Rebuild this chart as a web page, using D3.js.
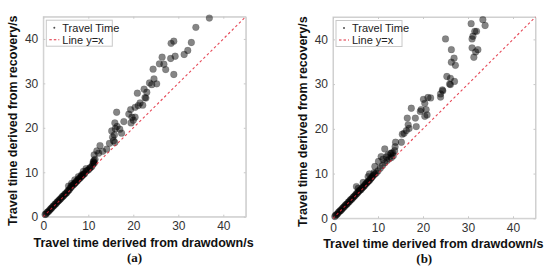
<!DOCTYPE html>
<html>
<head>
<meta charset="utf-8">
<script src="https://cdn.jsdelivr.net/npm/d3@7"></script>
<style>
  body { margin: 0; background: #fff; }
  svg { font-family: Arial, "Liberation Sans", sans-serif; }
</style>
</head>
<body>
<div id="main"></div>
<script>
// DATA
const ticks = [0, 10, 20, 30, 40]
const domainMax = 45
const panelLabels = ["(a)", "(b)"]
const xTitle = "Travel time derived from drawdown/s"
const yTitle = "Travel time derived from recovery/s"
const legendLabels = ["Travel Time", "Line y=x"]

// panel (a): [drawdown, recovery]
const pointsA = [
  [0.4,0.5],[0.6,0.6],[0.8,0.9],[1.0,1.1],[1.2,1.2],[1.4,1.5],[1.6,1.7],[1.8,1.9],[2.0,2.1],[2.2,2.4],
  [2.4,2.5],[2.6,2.8],[2.8,2.9],[3.0,3.2],[3.2,3.4],[3.4,3.6],[3.6,3.8],[3.8,4.0],[4.0,4.2],[4.2,4.5],
  [4.4,4.6],[4.6,4.8],[4.8,5.1],[5.0,5.2],[5.2,5.4],[5.4,5.7],[5.6,5.9],[5.8,6.1],[6.0,6.5],[6.2,6.6],
  [6.3,7.0],[6.6,7.1],[6.8,7.3],[7.0,7.5],[7.2,7.7],[7.4,8.0],[7.6,8.1],[7.8,8.4],[8.0,8.6],[8.2,8.7],
  [8.4,9.0],[8.6,9.2],[8.8,9.4],[9.0,9.6],[9.2,9.7],[9.5,10.2],[9.8,10.4],[10.1,10.6],[10.4,11.0],[10.8,11.3],
  [11.0,11.8],[11.2,12.2],[11.3,12.6],[11.1,12.4],[5.6,6.9],[6.3,7.5],[7.0,8.3],[7.8,9.0],[8.5,9.4],[8.9,10.2],
  [9.5,10.8],[10.4,11.0],[11.3,12.0],[11.5,12.9],[11.3,13.9],[12.3,14.3],[11.9,14.8],[13.2,14.7],[14.1,15.2],[12.6,16.0],
  [14.7,16.5],[15.9,16.7],[15.6,17.1],[15.4,17.9],[15.8,18.4],[17.4,18.8],[15.2,19.3],[16.0,19.8],[17.0,19.7],[16.4,20.3],
  [15.9,21.1],[17.9,21.4],[16.3,23.5],[19.5,21.1],[20.0,21.7],[19.7,22.4],[20.4,22.4],[19.0,23.1],[19.4,24.1],[20.4,24.6],
  [21.1,25.0],[22.1,25.1],[21.5,25.6],[22.6,26.8],[22.8,26.7],[20.9,27.8],[23.0,28.0],[22.4,28.7],[23.6,30.1],[24.1,29.7],
  [25.2,29.9],[24.6,31.0],[24.4,33.2],[27.2,33.1],[25.8,34.4],[26.8,34.3],[26.4,35.9],[28.3,35.6],[29.3,36.1],[29.0,32.0],
  [28.4,39.0],[29.0,39.5],[31.3,36.5],[32.1,37.4],[32.9,39.2],[33.9,42.6],[36.9,44.7]
]

// panel (b): [drawdown, recovery]
const pointsB = [
  [0.4,0.4],[0.6,0.7],[0.8,0.8],[1.0,1.0],[1.2,1.3],[1.4,1.5],[1.6,1.7],[1.8,1.8],[2.0,2.1],[2.2,2.3],
  [2.4,2.5],[2.6,2.7],[2.8,3.0],[3.0,3.1],[3.2,3.3],[3.4,3.6],[3.6,3.7],[3.8,4.0],[4.0,4.2],[4.2,4.3],
  [4.4,4.6],[4.6,4.8],[4.8,5.0],[5.0,5.2],[5.2,5.5],[5.4,5.6],[5.6,5.9],[5.8,6.1],[6.0,6.3],[6.2,6.4],
  [6.4,6.7],[6.6,6.9],[6.8,7.1],[7.0,7.3],[7.2,7.6],[7.4,7.8],[7.6,8.0],[7.8,8.2],[8.0,8.4],[8.2,8.6],
  [8.4,8.9],[8.6,9.1],[8.8,9.4],[9.0,9.6],[9.3,9.9],[9.6,10.1],[5.2,7.1],[5.6,6.7],[6.7,8.0],[7.8,9.3],
  [10.0,10.6],[10.5,11.2],[11.0,11.8],[11.5,12.4],[12.0,12.9],[12.5,13.3],[13.0,13.6],[13.4,14.0],[12.8,14.5],[13.3,14.6],
  [8.1,9.9],[9.1,10.2],[9.3,11.6],[10.1,12.7],[11.1,13.2],[10.7,13.8],[11.9,13.7],[12.2,14.2],[13.0,14.6],[13.7,15.1],
  [11.5,15.5],[13.8,16.0],[13.9,17.0],[15.2,17.0],[15.4,18.8],[15.8,19.0],[16.3,19.6],[16.9,20.1],[18.5,20.5],[16.7,20.9],
  [16.5,22.4],[18.3,22.4],[17.4,24.6],[19.4,23.9],[19.6,24.3],[20.7,24.3],[20.9,23.1],[20.4,22.8],[20.4,25.7],[20.1,26.6],
  [21.1,27.0],[21.7,26.9],[23.9,27.1],[23.9,27.8],[24.3,28.7],[24.4,28.5],[25.9,30.0],[26.1,29.9],[27.0,30.6],[26.1,31.3],
  [25.3,31.7],[27.2,34.2],[26.3,34.9],[26.9,35.8],[26.3,37.7],[25.0,40.1],[31.3,36.0],[31.7,37.2],[30.9,38.1],[32.2,37.7],
  [30.9,40.1],[31.1,40.7],[31.5,41.8],[31.9,41.8],[30.7,43.5],[33.3,44.4],[33.8,43.1]
]

// LAYOUT
const panels = [
  {points: pointsA, label: panelLabels[0], x0: 43.3, x1: 245.8, yb: 216.7, yt: 16.7},
  {points: pointsB, label: panelLabels[1], x0: 333, x1: 535.5, yb: 218.3, yt: 17}
]

const red = '#e0283a'
const boxGray = '#d0d0d0'

const svg = d3.select("#main").append("svg")
  .attr("width", 550)
  .attr("height", 272)

panels.forEach(draw_panel)

function draw_panel(p) {
  let x = d3.scaleLinear().domain([0, domainMax]).range([p.x0, p.x1])
  let y = d3.scaleLinear().domain([0, domainMax]).range([p.yb, p.yt])
  let g = svg.append("g")

  // box
  g.append("rect")
    .attr("x", p.x0).attr("y", p.yt)
    .attr("width", p.x1 - p.x0).attr("height", p.yb - p.yt)
    .attr("fill", "none").attr("stroke", boxGray).attr("stroke-width", 1)

  let xAxis = g.append("g")
    .attr("transform", `translate(0,${p.yb})`)
    .call(d3.axisBottom(x).tickValues(ticks).tickSizeInner(-2).tickSizeOuter(0).tickPadding(5))
  let yAxis = g.append("g")
    .attr("transform", `translate(${p.x0},0)`)
    .call(d3.axisLeft(y).tickValues(ticks).tickSizeInner(-2).tickSizeOuter(0).tickPadding(5))
  let xTop = g.append("g")
    .attr("transform", `translate(0,${p.yt})`)
    .call(d3.axisTop(x).tickValues(ticks).tickSizeInner(-2).tickSizeOuter(0).tickFormat(""))
  let yRight = g.append("g")
    .attr("transform", `translate(${p.x1},0)`)
    .call(d3.axisRight(y).tickValues(ticks).tickSizeInner(-2).tickSizeOuter(0).tickFormat(""))

  ;[xAxis, yAxis, xTop, yRight].forEach(a => {
    a.select(".domain").attr("stroke", boxGray)
    a.selectAll(".tick line").attr("stroke", "#c8c8c8")
    a.selectAll("text").attr("font-size", 12).attr("fill", "#333")
      .attr("font-family", "Arial, 'Liberation Sans', sans-serif")
  })

  // points
  g.selectAll("circle.pt")
    .data(p.points)
    .enter().append("circle")
      .attr("class", "pt")
      .attr("cx", d => x(d[0]))
      .attr("cy", d => y(d[1]))
      .attr("r", 3.4)
      .attr("fill", "#000")
      .attr("fill-opacity", 0.48)
      .attr("stroke", "#000")
      .attr("stroke-opacity", 0.2)
      .attr("stroke-width", 0.6)

  // y = x line
  g.append("path")
    .attr("d", d3.line()([[x(0), y(0)], [x(domainMax), y(domainMax)]]))
    .attr("fill", "none")
    .attr("stroke", red).attr("stroke-width", 1.1)
    .attr("stroke-opacity", 0.85)
    .attr("stroke-dasharray", "2.5,2.5")

  // legend
  let lg = g.append("g").attr("transform", `translate(${p.x0 + 3},${p.yt + 3.5})`)
  lg.append("rect")
    .attr("width", 66).attr("height", 26)
    .attr("fill", "#fff").attr("stroke", "#c8c8c8")
  lg.append("circle").attr("cx", 8).attr("cy", 7.5).attr("r", 1)
    .attr("fill", "#000").attr("fill-opacity", 0.7)
  lg.append("line").attr("x1", 3).attr("x2", 13).attr("y1", 19.5).attr("y2", 19.5)
    .attr("stroke", red).attr("stroke-width", 1.1).attr("stroke-dasharray", "2.5,2")
  lg.selectAll("text.lt")
    .data(legendLabels)
    .enter().append("text")
      .attr("class", "lt")
      .attr("x", 16)
      .attr("y", (d, i) => 11.5 + i * 12)
      .attr("font-size", 11)
      .attr("fill", "#222")
      .text(d => d)

  // axis titles
  let cx = (p.x0 + p.x1) / 2
  g.append("text")
    .attr("x", cx - 1).attr("y", p.yb + 30)
    .attr("text-anchor", "middle")
    .attr("font-size", 12.5).attr("font-weight", "bold").attr("fill", "#111")
    .text(xTitle)
  g.append("text")
    .attr("transform", `translate(${p.x0 - 26},${(p.yt + p.yb) / 2 + 4}) rotate(-90)`)
    .attr("text-anchor", "middle")
    .attr("font-size", 12.5).attr("font-weight", "bold").attr("fill", "#111")
    .text(yTitle)

  g.append("text")
    .attr("x", cx - 10).attr("y", p.yb + 45)
    .attr("text-anchor", "middle")
    .attr("font-family", "'Liberation Serif', 'DejaVu Serif', serif")
    .attr("font-size", 13).attr("font-weight", "bold").attr("fill", "#111")
    .text(p.label)
}
</script>
</body>
</html>
